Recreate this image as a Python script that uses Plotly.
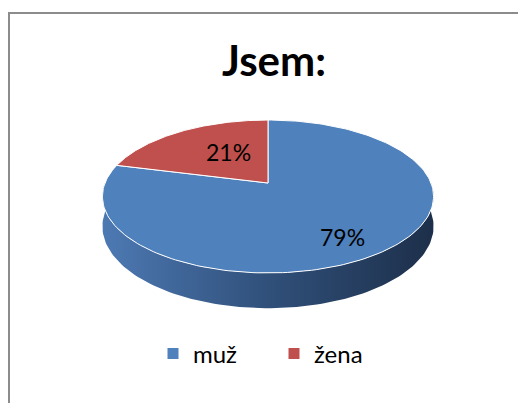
import numpy as np
import plotly.graph_objects as go

# ---- data ----
categories = ["muž", "žena"]
values = [79, 21]
title_text = "Jsem:"

# ---- style ----
colors = ["#4f81bd", "#c0504d"]
side_scales = [
    [[0, "#4d79b3"], [0.5, "#30507a"], [1, "#1d2f4a"]],
    [[0, "#c0504d"], [1, "#7a2f2d"]],
]
PAGE_W, PAGE_H = 526, 411
OFF = 8                    # default page margin of the html body
W, H = PAGE_W - 2 * OFF, PAGE_H - 2 * OFF
CX, CY = 268, 183          # projected pie centre (page pixels)
A, B, D = 163, 74.1, 5.67  # horizontal / vertical radius, perspective distance
DEP = 29                   # thickness
LABEL_R = [0.76, 0.52]     # radial position of labels (fraction of radius)
LABEL_T = [0.52, 0.60]     # angular position of labels within each wedge


def proj(theta_deg, r=1.0, dz=0.0):
    t = np.radians(theta_deg)
    u = r * np.sin(t)
    v = -r * np.cos(t)
    s = D / (D - v)
    return CX + A * u * s, CY + B * v * s + dz * s


fig = go.Figure()
total = float(sum(values))
angles = []
start = 0.0
for v in values:
    end = start + 360.0 * v / total
    angles.append((start, end))
    start = end

# sides (front half only is visible)
for (a0, a1), sc in zip(angles, side_scales):
    lo, hi = max(a0, 90.0), min(a1, 270.0)
    if hi <= lo:
        continue
    th = np.linspace(lo, hi, 120)
    xt, yt = proj(th)
    xb, yb = proj(th[::-1], dz=DEP)
    fig.add_trace(go.Scatter(
        x=np.concatenate([xt, xb, xt[:1]]), y=np.concatenate([yt, yb, yt[:1]]),
        mode="lines", fill="toself", line=dict(width=0),
        fillgradient=dict(type="horizontal", colorscale=sc),
        showlegend=False, hoverinfo="skip"))

# top faces
for (a0, a1), col in zip(angles, colors):
    th = np.linspace(a0, a1, 200)
    xa, ya = proj(th)
    fig.add_trace(go.Scatter(
        x=np.concatenate([[CX], xa, [CX]]), y=np.concatenate([[CY], ya, [CY]]),
        mode="lines", fill="toself", fillcolor=col,
        line=dict(color="white", width=1),
        showlegend=False, hoverinfo="skip"))

# labels
for (a0, a1), v, lr, lt in zip(angles, values, LABEL_R, LABEL_T):
    lx, ly = proj(a0 + lt * (a1 - a0), r=lr)
    pct = round(100.0 * v / total)
    fig.add_annotation(x=float(lx), y=float(ly), text=f"{pct}%", showarrow=False,
                       font=dict(family="Lato", size=23, color="black"))

# legend entries
for cat, col in zip(categories, colors):
    fig.add_trace(go.Scatter(x=[None], y=[None], mode="markers", name=cat,
                             marker=dict(symbol="square", size=11, color=col)))

bx = 1 / W
by = 1 - 5 / H
fig.update_layout(
    width=W, height=H,
    margin=dict(l=0, r=0, t=0, b=0),
    paper_bgcolor="white", plot_bgcolor="white",
    xaxis=dict(range=[OFF, OFF + W], visible=False, fixedrange=True),
    yaxis=dict(range=[OFF + H, OFF], visible=False, fixedrange=True),
    title=dict(text=f"<b>{title_text}</b>", x=(274 - OFF) / W, xanchor="center",
               y=1 - (61 - OFF) / H, yanchor="middle",
               font=dict(family="Lato", size=42, color="black")),
    legend=dict(orientation="h", x=(274 - OFF) / W, xanchor="center",
                y=1 - (354 - OFF) / H, yanchor="middle",
                font=dict(family="Lato", size=24, color="black"),
                entrywidth=76, itemwidth=30, bgcolor="rgba(0,0,0,0)"),
    shapes=[dict(type="path", xref="paper", yref="paper",
                 path=f"M {bx},-0.1 L {bx},{by} L 1.1,{by}",
                 line=dict(color="#8c8c8c", width=2))],
    showlegend=True,
)

fig.write_html("out.html")
